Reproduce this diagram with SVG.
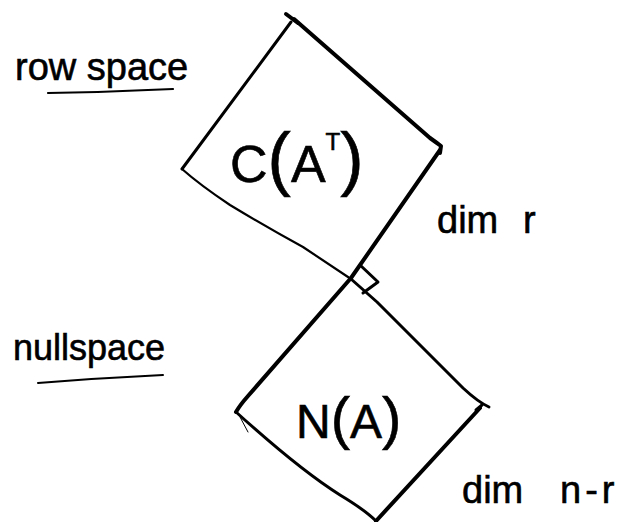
<svg xmlns="http://www.w3.org/2000/svg" width="629" height="522" viewBox="0 0 629 522">
  <style>
    .edge { fill: none; stroke: #000; stroke-linecap: round; stroke-linejoin: round; }
    .thick { stroke-width: 4; }
    .mid { stroke-width: 3; }
    .thin { stroke-width: 2.2; }
    .lbl { font-family: "Liberation Sans", "DejaVu Sans", sans-serif; fill: #000; stroke: #000; stroke-width: 0.6; }
  </style>
  <rect width="629" height="522" fill="#fff"/>

  <g id="row-space-label">
    <text class="lbl" x="15" y="80" font-size="38">row space</text>
    <path class="edge thin" d="M48,93 Q110,92 173,89"/>
  </g>

  <g id="null-space-label">
    <text class="lbl" x="13" y="360" font-size="36">nullspace</text>
    <path class="edge" stroke-width="2" d="M38,383 Q100,378 163,375"/>
  </g>

  <g id="node-row-space">
    <path class="edge thick" d="M286,14 L298,23"/>
    <path class="edge mid" d="M291,22 L182,169"/>
    <path class="edge thick" d="M294,19 L430,138 Q437,143 441,146 L440,153"/>
    <text class="lbl" x="230" y="182" font-size="52">C<tspan font-size="70">(</tspan>A<tspan dy="-32" font-size="24">T</tspan><tspan dy="32" font-size="70">)</tspan></text>
  </g>

  <g id="node-null-space">
    <path class="edge mid" d="M236,412 Q300,470 340,495 Q365,510 376,521"/>
    <path class="edge thick" d="M480,408 L376,521"/>
    <path class="edge mid" d="M476,410 L482,405"/>
    <path class="edge" stroke="#555" stroke-width="1" d="M240,417 L248,432"/>
    <text class="lbl" x="296" y="438" font-size="48">N<tspan font-size="58">(</tspan>A<tspan font-size="58">)</tspan></text>
  </g>

  <g id="connectors">
    <path class="edge thick" d="M440,150 Q405,200 351,278 L248,396 Q240,405 236,412"/>
    <path class="edge thin" d="M182,169 Q200,185 230,205 Q268,228 303,247 L351,279"/>
    <path class="edge mid" d="M351,279 L377,302 L463,388 Q478,402 489,407"/>
    <path class="edge mid" d="M360,265 L378,282 L363,293"/>
  </g>

  <g id="dim-labels">
    <text class="lbl" x="437" y="233" font-size="38">dim<tspan x="523">r</tspan></text>
    <text class="lbl" x="462" y="503" font-size="38">dim<tspan x="560" letter-spacing="4">n-r</tspan></text>
  </g>
</svg>
